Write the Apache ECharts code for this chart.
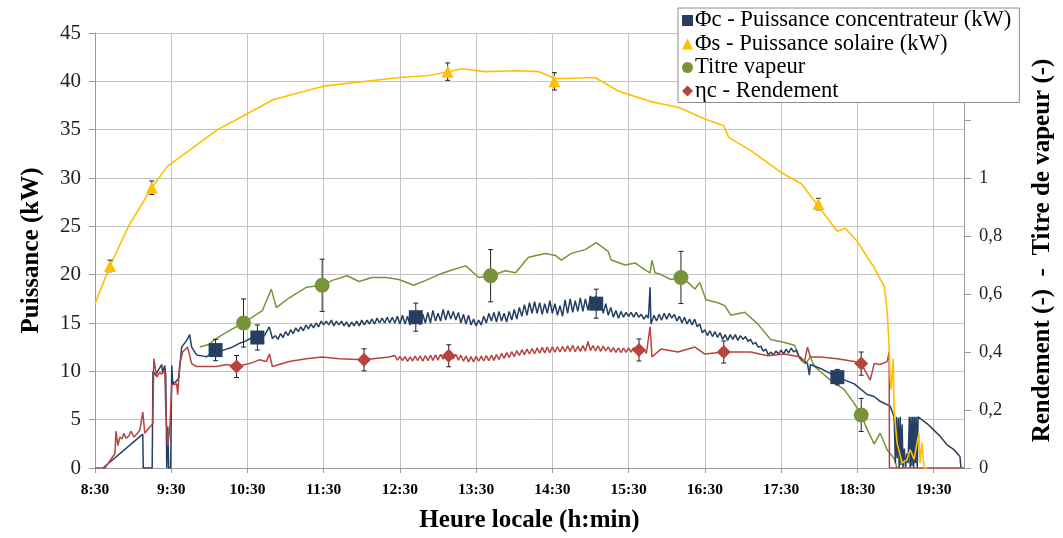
<!DOCTYPE html>
<html><head><meta charset="utf-8">
<script src="https://cdn.jsdelivr.net/npm/echarts@6/dist/echarts.min.js"></script>
<style>html,body{margin:0;padding:0;background:#fff}#c{width:1063px;height:538px}</style>
</head><body><div id="c"></div>
<script>
// Time is in minutes after 8:30 (local time)
// Φs - solar power (kW)
const phiS_t = [0,11.8,26.3,44.7,56.9,78.8,96.5,119.2,140,179.6,240,262.7,278.4,288.6,306.7,332.5,349.8,361.6,371.8,393.7,411.8,437.6,459.6,480,494.9,498.8,516.5,539.6,556,568.6,584.3,590.6,599.6,612.5,621.2,623.5,625,625.9,626.7,628.2,629,631.3,635.3,639.2,641.6,644.7,647,648.6,649.4,651,652.5,655];
const phiS_v = [17.0,20.9,25.0,29.0,31.2,33.3,35.0,36.6,38.1,39.5,40.4,40.6,41.0,41.3,41.0,41.1,41.0,40.3,40.3,40.4,39.0,37.9,37.3,36.1,35.4,34.2,32.8,30.6,29.4,27.2,24.5,24.8,23.5,20.9,18.8,16.3,12.8,9.4,8.1,11.3,6.0,2.6,0.5,0.9,1.9,0.9,2.6,3.6,0.5,2.6,0,0];
// Φc - concentrator power (kW)
const phiC_t = [6.3,37.6,38.0,45.0,45.3,45.6,47.8,50.2,52.5,53.3,54.9,55.7,56.5,57.3,58.0,59.6,60.4,61.2,63.5,65.9,68.2,72.2,74.5,76.1,80,84,87.8,91,95.7,99,103.5,108,113.7,118,123.9,128,133.3,137.2,139.6,
 142,144,146,148,150,152,154,156,158,160,162,164,166,168,170,172,174,176,178,180,182,184,186,188,190,192,194,196,198,200,202,204,206,208,210,212,214,216,218,220,222,224,226,228,230,232,234,236,238,240,
 242,244,246,248,250,252,254,256,258,260,262,264,266,268,270,272,274,276,278,280,282,284,286,288,290,292,294,296,298,300,302,304,306,308,310,312,314,316,318,320,322,324,326,328,330,332,334,336,338,340,
 342,344,346,348,350,352,354,356,358,360,362,364,366,368,370,372,374,376,378,380,382,384,386,388,390,392,394,396,398,400,402,404,406,408,410,412,414,416,418,420,422,424,426,428,430,432,434,435.5,436,436.9,437.6,
 440,442,444,446,448,450,452,454,456,458,460,462,464,466,468,470,472,474,476,478,480,482,484,486,488,490,492,494,496,498,500,502,504,506,508,510,512,514,516,518,520,522,524,526,528,530,532,534,536,538,540,542,544,546,548,550,552,554,
 555.3,560.8,562.3,563.1,571,584.3,597.6,607.8,613.3,618,625.9,629,630,630.8,631.5,632.3,633,633.8,634.5,635.3,636,637,638,639,640,641,641.6,642.3,643,643.7,644.4,645.1,645.8,646.5,647.2,647.9,648.6,654.9,665.1,670.6,676.1,680.8,681.6];
const phiC_v = [0,3.5,0,0,4.6,10.0,9.6,10.2,10.7,9.8,10.6,9.6,0,4.3,0,0,10.6,8.7,8.9,9.3,12.5,13.2,13.8,12.5,11.7,11.6,11.5,11.8,12.0,12.1,12.3,12.5,12.9,13.1,13.5,13.4,13.7,14.6,13.4,
 13.7,13.3,13.9,13.5,14.1,13.7,14.3,13.9,14.5,14.1,14.6,14.2,14.8,14.4,14.9,14.5,15.0,14.6,15.2,14.8,15.2,14.8,15.3,14.7,15.2,14.8,15.2,14.7,15.1,14.6,15.1,14.7,15.2,14.7,15.3,14.8,15.3,14.9,15.4,14.9,15.5,15.0,15.5,15.0,15.6,15.0,15.6,15.0,15.7,14.9,
 15.8,14.9,15.7,14.8,15.9,15.0,15.8,14.8,15.9,15.0,16.1,15.0,16.3,15.2,16.0,15.2,16.4,15.3,16.3,15.4,16.2,15.3,16.1,15.0,15.9,14.9,15.8,14.8,15.4,14.7,15.3,14.8,15.7,15.0,16.0,15.2,16.1,15.1,16.2,15.2,16.0,15.1,16.2,15.3,16.4,15.4,16.6,15.7,16.9,15.8,
 17.1,16.0,17.2,16.0,17.1,15.9,17.0,16.0,17.3,16.0,17.0,15.8,16.8,15.7,17.4,16.0,17.5,16.1,17.3,16.2,17.6,16.2,17.5,16.3,17.8,16.4,17.8,16.3,17.5,16.0,17.0,15.8,16.6,15.6,16.3,15.5,16.2,15.6,16.1,15.7,16.1,15.6,16.1,15.6,15.9,15.4,15.8,15.5,16.5,18.7,14.9,
 15.8,15.2,15.9,15.3,16.0,15.4,16.0,15.5,15.9,15.2,15.7,15.0,15.6,14.9,15.4,14.8,15.4,14.6,14.9,14.0,14.3,13.7,14.2,13.6,14.1,13.5,14.0,13.3,13.8,13.2,13.8,13.3,13.8,13.2,13.7,13.3,13.6,13.1,13.3,12.8,13.0,12.5,12.6,12.1,12.3,11.7,12.0,11.7,12.1,11.8,12.2,11.8,12.3,11.9,12.4,12.0,12.2,11.5,
 11.3,10.8,9.6,10.7,10.3,9.4,8.7,7.6,7.4,6.9,6.4,5.3,0.5,5.3,1.0,5.2,0,5.3,0.3,4.5,0,2.0,0,1.5,0.5,5.3,0,5.3,0.2,5.3,0,5.3,0.5,5.3,0,5.3,5.3,4.6,3.3,2.4,1.9,1.2,0];
// Titre vapeur (-)
const titre_t = [82.4,90.2,94.1,100.4,108.2,116.9,127.1,131.8,138.8,142.7,152.9,166.3,178.8,186.7,198.4,207.8,218,229,239.2,251,260.4,270.6,280.8,291.8,302,311.4,323.1,331,341.2,354.5,362.4,367,374.9,385.9,394.5,403.9,406.3,417.3,425.1,432.9,436.9,438.4,440.8,445.5,453.3,461.2,466.7,472.2,476.1,480.8,490.2,495.7,500.4,511.4,521.6,531.8,542.7,550.6,555.3,559.2,563.1,566.3,578.8,589.8,597.6,603.1,607.8,613.3,618,623.5,629,631.3];
const titre_v = [0.417,0.427,0.443,0.46,0.48,0.5,0.53,0.543,0.617,0.553,0.587,0.623,0.63,0.647,0.663,0.643,0.657,0.657,0.65,0.63,0.647,0.667,0.683,0.697,0.657,0.663,0.68,0.673,0.727,0.74,0.733,0.717,0.74,0.753,0.777,0.747,0.717,0.70,0.707,0.683,0.673,0.717,0.673,0.667,0.65,0.657,0.64,0.617,0.64,0.58,0.57,0.56,0.527,0.537,0.497,0.443,0.433,0.423,0.373,0.36,0.383,0.35,0.303,0.27,0.223,0.183,0.133,0.083,0.12,0.063,0.033,0];
// ηc - Rendement (-)
const eta_t = [0,7.8,15.7,16.5,18.0,19.6,21.2,22.7,24.3,26.7,28.2,30.6,32.9,35.3,37.6,39.2,42.4,45.5,46.3,48.6,51.0,52.5,54.9,55.7,56.5,57.3,58.8,60.4,64.3,65.1,66.7,69.0,72.9,76.1,80,95.7,103.5,111.4,121.6,129.4,134.9,137.3,139.6,152.9,166.3,178.8,192.2,211.8,231.4,
 236,238,240,242,244,246,248,250,252,254,256,258,260,262,264,266,268,270,272,274,276,278,280,282,284,286,288,290,292,294,296,298,300,302,304,306,308,310,312,314,316,318,320,322,324,326,328,330,332,334,336,338,340,
 342,344,346,348,350,352,354,356,358,360,362,364,366,368,370,372,374,376,378,380,382,384,386,388,390,392,394,396,398,400,402,404,406,408,410,412,414,416,418,420,422,424,426,428,430,432,434,435.3,
 436.9,438.4,445.5,458.8,472.2,480,494.9,516.1,529.4,542.7,555.3,558.4,560.8,563.1,571,584.3,597.6,603.1,610.2,613.3,618,623.5,625.1,625.3,684];
const eta_v = [0,0,0.05,0.127,0.077,0.107,0.10,0.12,0.103,0.11,0.127,0.107,0.117,0.13,0.193,0.12,0.137,0.153,0.377,0.313,0.33,0.323,0.337,0.2,0.133,0.077,0.133,0.287,0.29,0.253,0.36,0.40,0.417,0.36,0.35,0.35,0.357,0.35,0.36,0.373,0.367,0.393,0.35,0.367,0.377,0.383,0.377,0.373,0.383,
 0.388,0.372,0.385,0.370,0.384,0.368,0.383,0.369,0.386,0.370,0.387,0.368,0.388,0.370,0.389,0.371,0.390,0.372,0.392,0.375,0.395,0.377,0.396,0.376,0.392,0.372,0.389,0.368,0.386,0.366,0.384,0.366,0.385,0.368,0.386,0.369,0.388,0.370,0.389,0.371,0.391,0.374,0.395,0.378,0.398,0.381,0.401,0.384,0.405,0.388,0.408,0.391,0.410,
 0.393,0.412,0.394,0.414,0.396,0.416,0.397,0.417,0.398,0.418,0.399,0.418,0.400,0.420,0.401,0.421,0.402,0.423,0.401,0.420,0.402,0.422,0.403,0.436,0.405,0.422,0.404,0.421,0.402,0.420,0.404,0.418,0.400,0.415,0.399,0.414,0.398,0.413,0.399,0.414,0.400,0.415,0.400,0.414,0.399,0.410,0.395,0.393,
 0.487,0.383,0.41,0.40,0.417,0.393,0.40,0.40,0.387,0.393,0.383,0.367,0.417,0.383,0.383,0.377,0.367,0.36,0.303,0.36,0.357,0.367,0.40,0,0];
// Measurement points with uncertainty: [time, value, ±err]
const phiC_pts_t = [94.9,127.8,252.5,394.5,584.3];
const phiC_pts_v = [12.2,13.5,15.6,17.0,9.4];
const phiC_pts_e = [1.1,1.3,1.45,1.5,0.8];
const phiS_pts_t = [11.8,44.7,277.6,361.6,569.4];
const phiS_pts_v = [20.9,29.0,41.0,40.0,27.3];
const phiS_pts_e = [0.6,0.7,0.9,0.9,0.6];
const titre_pts_t = [116.9,178.8,311.4,461.2,603.1];
const titre_pts_v = [0.5,0.63,0.663,0.657,0.183];
const titre_pts_e = [0.083,0.09,0.09,0.09,0.057];
const eta_pts_t = [111.4,211.8,278.4,428.2,494.9,603.1];
const eta_pts_v = [0.35,0.373,0.387,0.407,0.40,0.36];
const eta_pts_e = [0.038,0.038,0.038,0.038,0.038,0.04];

const N_C = 'Φc - Puissance concentrateur (kW)';
const N_S = 'Φs - Puissance solaire (kW)';
const N_T = 'Titre vapeur';
const N_E = 'ηc - Rendement';
const C_C = '#243F60', C_S = '#FFC000', C_T = '#77933C', C_E = '#B8433F';

const zip = (t, v) => t.map((x, i) => [x, v[i]]);
const zip3 = (t, v, e) => t.map((x, i) => [x, v[i], e[i]]);
const FONT = 'Liberation Serif';

function errRender(params, api) {
  const x = api.value(0), y = api.value(1), e = api.value(2);
  const a = api.coord([x, y + e]), b = api.coord([x, y - e]);
  const st = { stroke: '#222', lineWidth: 1 };
  return { type: 'group', children: [
    { type: 'line', shape: { x1: a[0], y1: a[1], x2: b[0], y2: b[1] }, style: st },
    { type: 'line', shape: { x1: a[0] - 2.5, y1: a[1], x2: a[0] + 2.5, y2: a[1] }, style: st },
    { type: 'line', shape: { x1: b[0] - 2.5, y1: b[1], x2: b[0] + 2.5, y2: b[1] }, style: st }
  ]};
}
const lineS = (name, data, color, yi, w, z) => ({ name, type: 'line', data, yAxisIndex: yi, showSymbol: false, symbol: 'none',
  lineStyle: { color, width: w }, itemStyle: { color }, animation: false, z, silent: true });
const errS = (data, yi) => ({ type: 'custom', data, yAxisIndex: yi, renderItem: errRender, encode: { x: 0, y: 1 }, z: 5, silent: true, animation: false });
const ptS = (name, data, color, yi, symbol, size) => ({ name, type: 'scatter', data, yAxisIndex: yi, symbol, symbolSize: size,
  itemStyle: { color, opacity: 1 }, z: 6, animation: false, encode: { x: 0, y: 1 } });

const chart = echarts.init(document.getElementById('c'), null, { renderer: 'canvas' });
chart.setOption({
  animation: false,
  backgroundColor: '#fff',
  grid: { left: 95, right: 96, top: 33, bottom: 66, containLabel: false },
  legend: {
    orient: 'vertical', left: 678, top: 8,
    backgroundColor: '#fff', borderColor: '#8c8c8c', borderWidth: 1, borderRadius: 0,
    padding: [1, 8, 0, 4], itemGap: 0.5, itemWidth: 11, itemHeight: 11,
    textStyle: { fontFamily: FONT, fontSize: 22.6, color: '#000', lineHeight: 22, padding: [0, 0, 0, -3] },
    data: [
      { name: N_C, icon: 'rect', itemStyle: { color: C_C } },
      { name: N_S, icon: 'triangle', itemStyle: { color: C_S } },
      { name: N_T, icon: 'circle', itemStyle: { color: C_T } },
      { name: N_E, icon: 'diamond', itemStyle: { color: C_E } }
    ]
  },
  xAxis: {
    type: 'value', min: 0, max: 684, interval: 60,
    name: 'Heure locale (h:min)', nameLocation: 'middle', nameGap: 40,
    nameTextStyle: { fontFamily: FONT, fontSize: 25, fontWeight: 'bold', color: '#000' },
    axisLine: { lineStyle: { color: '#9a9a9a' } },
    axisTick: { show: true, length: 5, lineStyle: { color: '#9a9a9a' } },
    axisLabel: { fontFamily: FONT, fontSize: 15.5, fontWeight: 'bold', color: '#000', margin: 14, showMaxLabel: false,
      formatter: v => { const tot = 510 + v; const h = Math.floor(tot / 60), m = tot % 60; return h + ':' + String(m).padStart(2, '0'); } },
    splitLine: { show: true, lineStyle: { color: '#c4c4c4', width: 1 } }
  },
  yAxis: [
    { type: 'value', min: 0, max: 45, interval: 5, position: 'left',
      name: 'Puissance (kW)', nameLocation: 'middle', nameGap: 51,
      nameTextStyle: { fontFamily: FONT, fontSize: 25, fontWeight: 'bold', color: '#000' },
      axisLine: { show: true, lineStyle: { color: '#9a9a9a' } },
      axisTick: { show: true, length: 6, lineStyle: { color: '#9a9a9a' } },
      axisLabel: { fontFamily: FONT, fontSize: 21, color: '#222', margin: 14 },
      splitLine: { show: true, lineStyle: { color: '#c4c4c4', width: 1 } } },
    { type: 'value', min: 0, max: 1.5, interval: 0.2, position: 'right',
      name: 'Rendement (-)  -  Titre de vapeur (-)', nameLocation: 'middle', nameGap: 66,
      nameTextStyle: { fontFamily: FONT, fontSize: 25, fontWeight: 'bold', color: '#000' },
      axisLine: { show: true, lineStyle: { color: '#9a9a9a' } },
      axisTick: { show: true, length: 7, lineStyle: { color: '#9a9a9a' } },
      axisLabel: { fontFamily: FONT, fontSize: 18.5, color: '#222', margin: 15, showMaxLabel: false,
        formatter: v => v > 1.0001 ? '' : String(Math.round(v * 10) / 10).replace('.', ',') },
      splitLine: { show: false } }
  ],
  series: [
    lineS(N_T, zip(titre_t, titre_v), C_T, 1, 1.5, 2),
    lineS(N_C, zip(phiC_t, phiC_v), C_C, 0, 1.5, 3),
    lineS(N_E, zip(eta_t, eta_v), C_E, 1, 1.5, 3),
    lineS(N_S, zip(phiS_t, phiS_v), C_S, 0, 1.6, 4),
    errS(zip3(phiC_pts_t, phiC_pts_v, phiC_pts_e), 0),
    errS(zip3(phiS_pts_t, phiS_pts_v, phiS_pts_e), 0),
    errS(zip3(titre_pts_t, titre_pts_v, titre_pts_e), 1),
    errS(zip3(eta_pts_t, eta_pts_v, eta_pts_e), 1),
    ptS(N_C, zip(phiC_pts_t, phiC_pts_v), C_C, 0, 'rect', 14),
    ptS(N_S, zip(phiS_pts_t, phiS_pts_v), C_S, 0, 'triangle', 12),
    ptS(N_T, zip(titre_pts_t, titre_pts_v), C_T, 1, 'circle', 15),
    ptS(N_E, zip(eta_pts_t, eta_pts_v), C_E, 1, 'diamond', 14)
  ]
});
</script></body></html>
